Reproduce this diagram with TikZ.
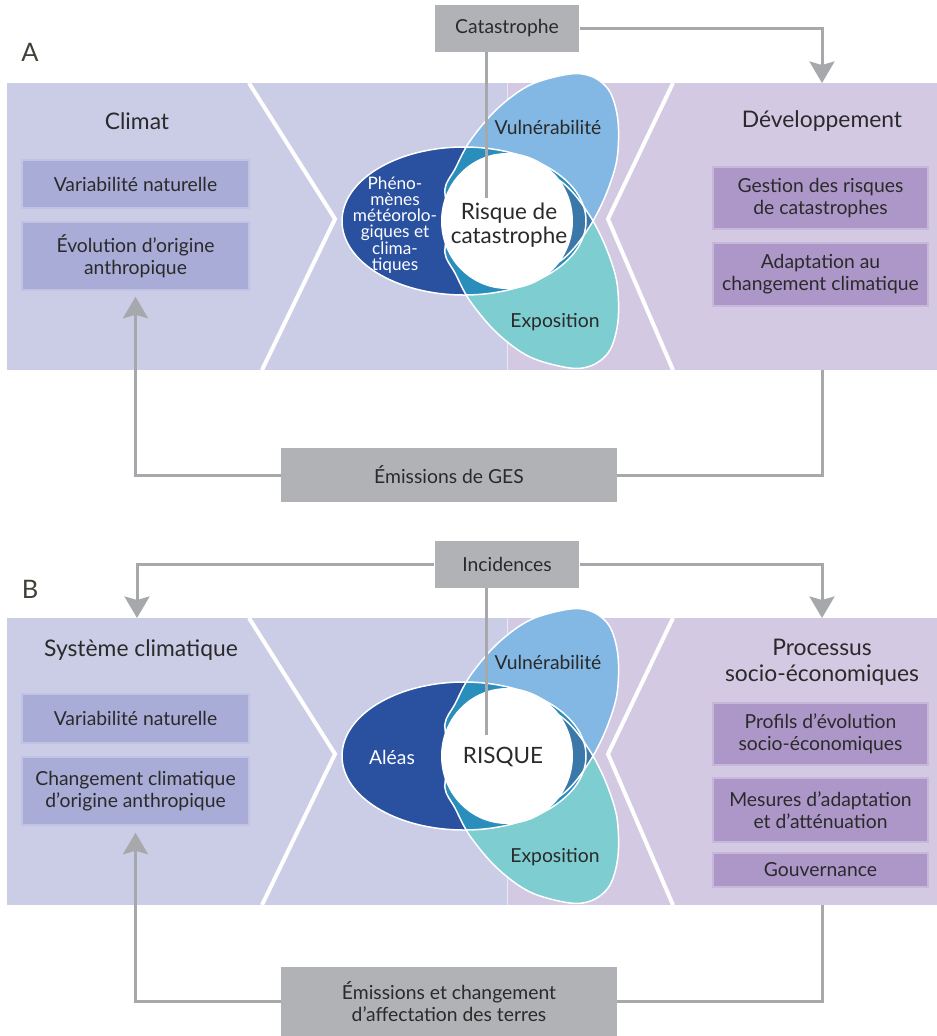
\documentclass[tikz,border=0pt]{standalone}
\usepackage{fontspec}
\setmainfont{Lato}
\usetikzlibrary{arrows.meta,positioning}

\definecolor{bandL}{HTML}{CBCDE7}
\definecolor{bandR}{HTML}{D3C9E3}
\definecolor{boxL}{HTML}{A8ACD6}
\definecolor{boxLedge}{HTML}{C0C3E4}
\definecolor{boxR}{HTML}{AD97C9}
\definecolor{boxRedge}{HTML}{C7B8DB}
\definecolor{greyfill}{HTML}{B1B2B5}
\definecolor{linegrey}{HTML}{A7A8AB}
\definecolor{txt}{HTML}{2B2A2A}
\definecolor{letter}{HTML}{3F4237}
\definecolor{hazard}{HTML}{2A50A0}
\definecolor{vulner}{HTML}{82B8E3}
\definecolor{expos}{HTML}{7DCDD1}
\definecolor{overlap}{HTML}{2A8EBC}
\definecolor{steel}{HTML}{3A78AA}

% petal outlines, relative to the centre of the white disc
\newcommand\hazpath{(-43,0) ellipse [x radius=122, y radius=74]}
\newcommand\vulpath{plot[smooth cycle, tension=0.55] coordinates {(86,0) (100,-29) (110,-62) (111,-100) (103,-129) (86,-144) (63,-147) (23,-136) (-10,-112) (-37,-80) (-52,-52) (-62,-32) (-56,-5) (-35,25) (-5,45) (25,50) (50,42) (68,26)}}

\tikzset{
  txtstyle/.style={text=txt, font=\fontsize{11}{12.5}\selectfont, align=center, inner sep=1pt},
  heading/.style={txtstyle, font=\fontsize{13}{15}\selectfont},
  lbox/.style={txtstyle, fill=boxL, draw=boxLedge, line width=0.03cm, minimum width=4.54cm},
  rbox/.style={lbox, fill=boxR, draw=boxRedge, minimum width=4.3cm},
  greybox/.style={txtstyle, fill=greyfill, minimum width=2.9cm, minimum height=0.94cm},
  panel/.style={text=letter, font=\fontsize{14.5}{15}\selectfont},
  petal/.style={txtstyle},
  core/.style={txtstyle, font=\fontsize{12.8}{14}\selectfont},
  link/.style={draw=linegrey, line width=0.06cm},
  arrowhd/.style={-{Stealth[width=0.5cm, length=0.43cm, inset=0.07cm]}},
  chevron/.style={white, line width=0.08cm},
  petaledge/.style={white, line width=0.03cm}
}

\begin{document}
\begin{tikzpicture}[x=0.02cm, y=-0.02cm]
    \useasboundingbox (0,0) rectangle (937,1036);

    % Bands, chevrons and petals of both panels
    \foreach \dy in {0,535} {
        \begin{scope}[shift={(0,\dy)}]
            \fill[bandL] (7,83) rectangle (507,370);
            \fill[bandR] (507,83) rectangle (937,370);
            \draw[white!55!bandL, line width=0.02cm] (507,83) -- (507,370);
            \draw[chevron] (249,83) -- (335,219) -- (262,370);
            \draw[chevron] (673,83) -- (608,219) -- (673,370);
            \begin{scope}[shift={(507,221)}]
                \fill[hazard] \hazpath;
                \fill[vulner] \vulpath;
                \fill[expos, yscale=-1] \vulpath;
                \begin{scope}
                    \clip \hazpath;
                    \fill[overlap] \vulpath;
                    \fill[overlap, yscale=-1] \vulpath;
                \end{scope}
                \begin{scope}
                    \clip \vulpath;
                    \fill[steel, yscale=-1] \vulpath;
                \end{scope}
                \draw[petaledge] \hazpath;
                \draw[petaledge] \vulpath;
                \draw[petaledge, yscale=-1] \vulpath;
                \fill[white] (0,0) ellipse [x radius=66, y radius=68];
            \end{scope}
        \end{scope}
    }

    % Panel A
    \node[panel] (labA) at (30,52) {A};
    \node[greybox] (catA) at (507,28.5) {Catastrophe};
    \node[heading] (climA) at (137,121) {Climat};
    \node[lbox, minimum height=0.96cm] (varA) at (135.5,184) {Variabilité naturelle};
    \node[lbox, minimum height=1.36cm] (evoA) at (135.5,256) {Évolution d’origine\\anthropique};
    \node[heading] (devA) at (822,121) {Développement};
    \node[rbox, minimum height=1.24cm] (gesA) at (820.5,198) {Gestion des risques\\de catastrophes};
    \node[rbox, minimum height=1.26cm] (adaA) at (820.5,274.5) {Adaptation au\\changement climatique};
    \node[greybox, minimum width=6.72cm, minimum height=1.08cm] (emA) at (449,475) {Émissions de GES};
    \node[petal, text=white, font=\fontsize{9.8}{9.2}\selectfont] (hazA) at (395,225) {Phéno-\\mènes\\météorolo-\\giques et\\clima-\\tiques};
    \node[petal] (vulA) at (548,127) {Vulnérabilité};
    \node[petal] (expA) at (555,322) {Exposition};
    \node[core] (riskA) at (509,225) {Risque de\\catastrophe};

    \coordinate (devtopA) at (822,83);
    \coordinate (devbotA) at (822,370);
    \coordinate (catendA) at (486,198);
    \draw[link, arrowhd] (catA.east) -| (devtopA);
    \draw[link] (catA.south -| catendA) -- (catendA);
    \draw[link] (devbotA) |- (emA.east);
    \draw[link, arrowhd, shorten >=0.12cm] (emA.west) -| (evoA.south);

    % Panel B
    \node[panel] (labB) at (30,589) {B};
    \node[greybox] (incB) at (507,564.5) {Incidences};
    \node[heading] (sysB) at (141,650) {Système climatique};
    \node[lbox, minimum height=0.98cm] (varB) at (135.5,718.5) {Variabilité naturelle};
    \node[lbox, minimum height=1.36cm] (chgB) at (135.5,791) {Changement climatique\\d’origine anthropique};
    \node[heading] (procB) at (822,662) {Processus\\socio-économiques};
    \node[rbox, minimum height=1.24cm] (profB) at (820.5,734) {Profils d’évolution\\socio-économiques};
    \node[rbox, minimum height=1.28cm] (mesB) at (820.5,810) {Mesures d’adaptation\\et d’atténuation};
    \node[rbox, minimum height=0.68cm] (gouvB) at (820.5,870) {Gouvernance};
    \node[greybox, minimum width=6.72cm, minimum height=1.38cm] (emB) at (449,1001.5) {Émissions et changement\\d’affectation des terres};
    \node[petal, text=white] (hazB) at (392,757) {Aléas};
    \node[petal] (vulB) at (548,662) {Vulnérabilité};
    \node[petal] (expB) at (555,857) {Exposition};
    \node[core] (riskB) at (503,757) {RISQUE};

    \coordinate (systopB) at (137,618);
    \coordinate (proctopB) at (822,618);
    \coordinate (procbotB) at (822,905);
    \coordinate (incendB) at (486,735);
    \draw[link, arrowhd] (incB.west) -| (systopB);
    \draw[link, arrowhd] (incB.east) -| (proctopB);
    \draw[link] (incB.south -| incendB) -- (incendB);
    \draw[link] (procbotB) |- (emB.east);
    \draw[link, arrowhd, shorten >=0.14cm] (emB.west) -| (chgB.south);
\end{tikzpicture}
\end{document}
